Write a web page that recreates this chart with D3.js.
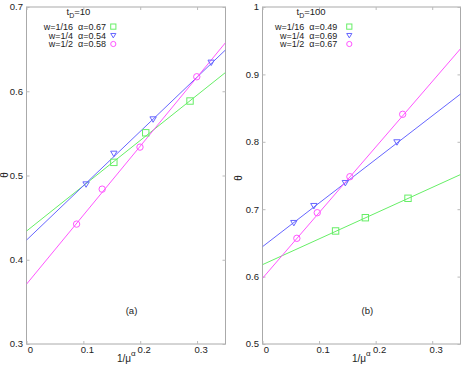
<!DOCTYPE html>
<html>
<head>
<meta charset="utf-8">
<script src="https://cdn.jsdelivr.net/npm/d3@7/dist/d3.min.js"></script>
<style>
  body { margin: 0; background: #fff; }
  svg { display: block; font-family: "Liberation Sans", Arial, sans-serif; }
  text { white-space: pre; }
</style>
</head>
<body>
<svg id="chart" width="471" height="367"></svg>
<script>
// shared tick labels
const xTicks = [0, 0.1, 0.2, 0.3];
const yTicksA = [0.3, 0.4, 0.5, 0.6, 0.7];
const yTicksB = [0.5, 0.6, 0.7, 0.8, 0.9, 1];

const seriesNames = ["w=1/16", "w=1/4", "w=1/2"];
const seriesColors = ["#66ee66", "#6666ff", "#ff55ff"];
const seriesSymbols = ["square", "triangle", "circle"];

// panel (a), t_D = 10
const alphasA = ["0.67", "0.54", "0.58"];
const xA16 = [0.1536, 0.2097, 0.2876];
const yA16 = [0.5156, 0.5507, 0.5884];
const xA4 = [0.1048, 0.1536, 0.2227, 0.3248];
const yA4 = [0.4898, 0.5262, 0.5670, 0.6343];
const xA2 = [0.0881, 0.1331, 0.1996, 0.2995];
const yA2 = [0.4423, 0.4838, 0.5337, 0.6172];
const interceptA = [0.434, 0.4233, 0.371];
const slopeA = [0.538, 0.645, 0.819];

// panel (b), t_D = 100
const alphasB = ["0.49", "0.69", "0.67"];
const xB16 = [0.1292, 0.1818, 0.2572];
const yB16 = [0.6677, 0.6874, 0.7162];
const xB4 = [0.0554, 0.0908, 0.1464, 0.2377];
const yB4 = [0.6800, 0.7052, 0.7393, 0.7997];
const xB2 = [0.0607, 0.0968, 0.1545, 0.2478];
const yB2 = [0.6568, 0.6948, 0.7482, 0.8408];
const interceptB = [0.6177, 0.6444, 0.5975];
const slopeB = [0.382, 0.647, 0.973];

const svg = d3.select("#chart");

function symbol(g, kind, x, y, r, color) {
  if (kind === "square") {
    g.append("rect").attr("x", x - r).attr("y", y - r)
      .attr("width", 2 * r).attr("height", 2 * r)
      .attr("fill", "none").attr("stroke", color);
  } else if (kind === "circle") {
    g.append("circle").attr("cx", x).attr("cy", y).attr("r", r)
      .attr("fill", "none").attr("stroke", color);
  } else {
    g.append("path")
      .attr("d", `M${x - r},${y - r * 0.7}L${x + r},${y - r * 0.7}L${x},${y + r}Z`)
      .attr("fill", "none").attr("stroke", color);
  }
}

function panel(opt) {
  const x = d3.scaleLinear().domain([0, 0.35]).range([opt.left, opt.right]);
  const y = d3.scaleLinear().domain(opt.yDomain).range([344, 7]);
  const g = svg.append("g");

  // frame
  g.append("rect")
    .attr("x", opt.left).attr("y", 7)
    .attr("width", opt.right - opt.left).attr("height", 337)
    .attr("fill", "none").attr("stroke", "#aaa");

  // axes: inward ticks on all sides, labels drawn separately
  const tickCol = "#bbb";
  g.append("g").attr("transform", "translate(0,344)")
    .call(d3.axisTop(x).tickValues(xTicks).tickSize(3).tickFormat(""))
    .call(a => a.select(".domain").remove())
    .call(a => a.selectAll("line").attr("stroke", tickCol));
  g.append("g").attr("transform", "translate(0,7)")
    .call(d3.axisBottom(x).tickValues(xTicks).tickSize(3).tickFormat(""))
    .call(a => a.select(".domain").remove())
    .call(a => a.selectAll("line").attr("stroke", tickCol));
  g.append("g").attr("transform", `translate(${opt.left},0)`)
    .call(d3.axisRight(y).tickValues(opt.yTicks).tickSize(3).tickFormat(""))
    .call(a => a.select(".domain").remove())
    .call(a => a.selectAll("line").attr("stroke", tickCol));
  g.append("g").attr("transform", `translate(${opt.right},0)`)
    .call(d3.axisLeft(y).tickValues(opt.yTicks).tickSize(3).tickFormat(""))
    .call(a => a.select(".domain").remove())
    .call(a => a.selectAll("line").attr("stroke", tickCol));

  // tick labels
  g.selectAll(".xl").data(xTicks).enter().append("text")
    .attr("x", d => x(d) + 4).attr("y", 353)
    .attr("text-anchor", "middle").attr("font-size", 9.5).attr("fill", "#222")
    .text(d => d3.format("")(d));
  g.selectAll(".yl").data(opt.yTicks).enter().append("text")
    .attr("x", opt.left - 3.5).attr("y", d => y(d) + 3.3)
    .attr("text-anchor", "end").attr("font-size", 9.5).attr("fill", "#222")
    .text(d => d3.format("")(d));

  // axis titles
  const xl = g.append("text").attr("x", opt.xLabelX).attr("y", 362)
    .attr("font-size", 10).attr("fill", "#222");
  xl.append("tspan").text("1/\u03bc");
  xl.append("tspan").attr("dy", -6).attr("font-size", 8).text("\u03b1");
  g.append("text")
    .attr("transform", `translate(${opt.thetaX},${opt.thetaY}) rotate(-90)`)
    .attr("text-anchor", "middle").attr("font-size", 10).attr("fill", "#222")
    .text("\u03b8");

  // fit lines, clipped to frame
  const clipId = "clip" + opt.name;
  g.append("clipPath").attr("id", clipId).append("rect")
    .attr("x", opt.left).attr("y", 7)
    .attr("width", opt.right - opt.left).attr("height", 337);
  const lines = g.append("g").attr("clip-path", `url(#${clipId})`);
  opt.intercepts.forEach((b, i) => {
    lines.append("line")
      .attr("x1", x(0)).attr("y1", y(b))
      .attr("x2", x(0.35)).attr("y2", y(b + opt.slopes[i] * 0.35))
      .attr("stroke", seriesColors[i]).attr("stroke-width", 1);
  });

  // points
  opt.points.forEach((s, i) => {
    s.xs.forEach((xv, j) => {
      symbol(g, seriesSymbols[i], x(xv), y(s.ys[j]), 3.2, seriesColors[i]);
    });
  });

  // title t_D
  const t = g.append("text").attr("x", opt.titleX).attr("y", 15)
    .attr("font-size", 9.5).attr("fill", "#222");
  t.append("tspan").text("t");
  t.append("tspan").attr("dy", 2.5).attr("font-size", 7).text("D");
  t.append("tspan").attr("dy", -2.5).text("=" + opt.tD);

  // legend
  seriesNames.forEach((n, i) => {
    const cy = 26.6 + i * 8.7;
    g.append("text").attr("x", opt.legendRight).attr("y", cy + 3.2)
      .attr("text-anchor", "end").attr("font-size", 9).attr("fill", "#222")
      .text(n + "  \u03b1=" + opt.alphas[i]);
    symbol(g, seriesSymbols[i], opt.legendSym, cy, 2.6, seriesColors[i]);
  });

  // panel label
  g.append("text").attr("x", opt.tagX).attr("y", 314)
    .attr("text-anchor", "middle").attr("font-size", 9.5).attr("fill", "#222")
    .text(opt.tag);
}

panel({
  name: "a", left: 26.5, right: 225.5, yDomain: [0.3, 0.7], yTicks: yTicksA,
  intercepts: interceptA, slopes: slopeA,
  points: [{xs: xA16, ys: yA16}, {xs: xA4, ys: yA4}, {xs: xA2, ys: yA2}],
  alphas: alphasA, tD: "10", titleX: 66.5, legendRight: 106, legendSym: 113.3,
  xLabelX: 117, thetaX: 8, thetaY: 175, tagX: 131.5, tag: "(a)"
});

panel({
  name: "b", left: 262.5, right: 460.5, yDomain: [0.5, 1], yTicks: yTicksB,
  intercepts: interceptB, slopes: slopeB,
  points: [{xs: xB16, ys: yB16}, {xs: xB4, ys: yB4}, {xs: xB2, ys: yB2}],
  alphas: alphasB, tD: "100", titleX: 296.5, legendRight: 337.3, legendSym: 349.3,
  xLabelX: 352, thetaX: 242, thetaY: 178, tagX: 367.3, tag: "(b)"
});
</script>
</body>
</html>
